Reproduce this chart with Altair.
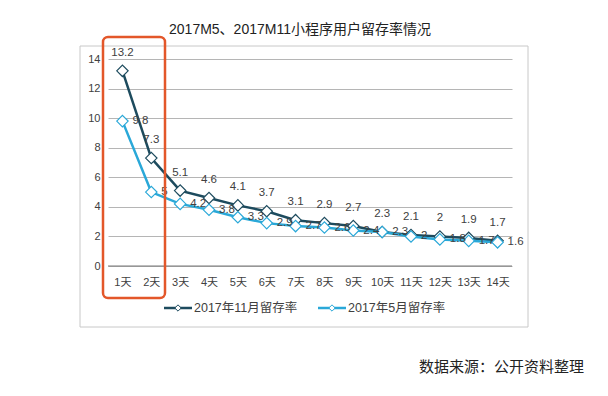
import altair as alt
import pandas as pd

days = ["1天", "2天", "3天", "4天", "5天", "6天", "7天", "8天", "9天", "10天", "11天", "12天", "13天", "14天"]
nov = [13.2, 7.3, 5.1, 4.6, 4.1, 3.7, 3.1, 2.9, 2.7, 2.3, 2.1, 2, 1.9, 1.7]
may = [9.8, 5, 4.2, 3.8, 3.3, 2.9, 2.7, 2.6, 2.4, 2.3, 2, 1.8, 1.7, 1.6]
series = ["2017年11月留存率", "2017年5月留存率"]
colors = ["#1d4b5e", "#2aa8d8"]
yticks = [0, 2, 4, 6, 8, 10, 12, 14]
title_text = "2017M5、2017M11小程序用户留存率情况"
source_text = "数据来源：公开资料整理"

rows = []
for s, vals in zip(series, [nov, may]):
    for d, v in zip(days, vals):
        rows.append({"day": d, "series": s, "value": v, "label": f"{v:g}"})
df = pd.DataFrame(rows)

FONT = "Liberation Sans, Noto Sans CJK SC, sans-serif"

yscale = alt.Scale(domain=[0, 14], nice=False)
x = alt.X("day:N", sort=days, scale=alt.Scale(type="point", padding=0.5),
          axis=alt.Axis(title=None, labelAngle=0, domain=False, ticks=False, grid=False,
                        labelPadding=10, labelFontSize=11, labelColor="#404040", labelFont=FONT))
y = alt.Y("value:Q", scale=yscale,
          axis=alt.Axis(title=None, values=yticks, domain=False, ticks=False, labelOverlap=False,
                        grid=True, gridColor="#b5b5b5", gridWidth=1, labelPadding=8, labelFontSize=11,
                        labelColor="#404040", labelFont=FONT))
cscale = alt.Scale(domain=series, range=colors)
stroke = alt.Stroke("series:N", sort=series, scale=cscale, legend=None)

base = alt.Chart(df)

frame = alt.Chart(pd.DataFrame({"a": [0]})).mark_rect(fill=None, stroke="#c8c8c8", strokeWidth=1).encode(
    x=alt.value(-28), x2=alt.value(420), y=alt.value(-13), y2=alt.value(268))

zero = alt.Chart(pd.DataFrame({"value": [0]})).mark_rule(color="#7a7a7a", strokeWidth=1.2).encode(y=y)

lines = base.mark_line(strokeWidth=2.5).encode(x=x, y=y, stroke=stroke)
points = base.mark_point(shape="diamond", size=130, filled=False, fill="white", fillOpacity=1,
                         strokeWidth=1.2, opacity=1).encode(x=x, y=y, stroke=stroke)

nov_df = df[df.series == series[0]]
may_df = df[df.series == series[1]]

nov_labels = alt.Chart(nov_df).mark_text(dy=-18, fontSize=11.5, color="#404040", font=FONT).encode(
    x=x, y=y, text="label:N")
may_labels = alt.Chart(may_df).mark_text(dx=10, align="left", fontSize=11.5, color="#404040", font=FONT).encode(
    x=x, y=y, text="label:N")

# legend entries
legend_layers = []
for i, (s, lx) in enumerate(zip(series, [56, 210])):
    ld = pd.DataFrame({"series": [s]})
    legend_layers.append(alt.Chart(ld).mark_rule(strokeWidth=2.5).encode(
        x=alt.value(lx), x2=alt.value(lx + 28), y=alt.value(249), stroke=stroke))
    legend_layers.append(alt.Chart(ld).mark_point(shape="diamond", size=40, filled=False, fill="white",
                                                  fillOpacity=1, strokeWidth=1, opacity=1).encode(
        x=alt.value(lx + 14), y=alt.value(249), stroke=stroke))
    legend_layers.append(alt.Chart(ld).mark_text(align="left", baseline="middle", fontSize=12.5,
                                                 color="#404040", font=FONT).encode(
        x=alt.value(lx + 30), y=alt.value(249), text="series:N"))

red_box = alt.Chart(pd.DataFrame({"a": [0]})).mark_rect(fill=None, stroke="#e3572a", strokeWidth=2.5,
                                                        cornerRadius=5).encode(
    x=alt.value(-5), x2=alt.value(57), y=alt.value(-22), y2=alt.value(239))

title = alt.Chart(pd.DataFrame({"t": [title_text]})).mark_text(
    fontSize=14, color="#222222", font=FONT, align="center", baseline="middle").encode(
    x=alt.value(192), y=alt.value(-29), text="t:N")

source = alt.Chart(pd.DataFrame({"t": [source_text]})).mark_text(
    fontSize=15, color="#222222", font=FONT, align="left", baseline="middle").encode(
    x=alt.value(311), y=alt.value(308), text="t:N")

chart = alt.layer(frame, zero, lines, points, nov_labels, may_labels, *legend_layers,
                  red_box, title, source).properties(
    width=404, height=207,
    autosize=alt.AutoSizeParams(type="none"),
    padding={"left": 100, "top": 51, "right": 88, "bottom": 122},
    background="white"
).configure_view(stroke=None)

chart.save("out.html", embed_options={"renderer": "svg", "actions": False})
